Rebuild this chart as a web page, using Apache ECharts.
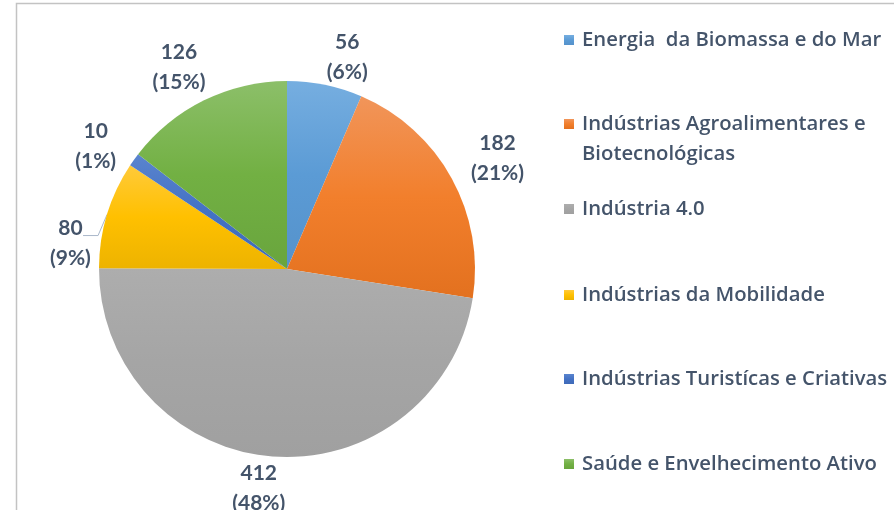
<!DOCTYPE html>
<html><head><meta charset="utf-8">
<script src="https://cdn.jsdelivr.net/npm/echarts@6/dist/echarts.min.js"></script>
<style>html,body{margin:0;padding:0;background:#fff}#c{width:894px;height:510px}</style>
</head><body><div id="c"></div>
<script>
const categories = ['Energia  da Biomassa e do Mar', 'Indústrias Agroalimentares e Biotecnológicas', 'Indústria 4.0', 'Indústrias da Mobilidade', 'Indústrias Turistícas e Criativas', 'Saúde e Envelhecimento Ativo'];
const legendText = ['Energia  da Biomassa e do Mar', '\nIndústrias Agroalimentares e\nBiotecnológicas', 'Indústria 4.0', 'Indústrias da Mobilidade', 'Indústrias Turistícas e Criativas', 'Saúde e Envelhecimento Ativo'];
const values = [56, 182, 412, 80, 10, 126];
const palette = [
  ['#76AEE0', '#5B9BD5', '#5592CB'],
  ['#F1955A', '#F27F2C', '#E3711F'],
  ['#ADADAD', '#A5A5A5', '#A0A0A0'],
  ['#FFCA3A', '#FFC000', '#EDB300'],
  ['#5A84CE', '#4472C4', '#3F6AB8'],
  ['#8CBF69', '#72B043', '#69A53D']
];
const leaderIndex = 3;
// layout tweaks (pixels) for the outside-end data labels
const labelNudge = [[14, 13], [10, 0], [-10, -9], [0, 0], [-5, 10], [-7, 4]];
const legendCenters = [40, 124, 209, 295, 379, 464];

const textColor = '#44546A';
const font = 'Lato';
const legendFont = 'Open Sans';

function grad(c) {
  return new echarts.graphic.LinearGradient(0, 0, 0, 1, [
    {offset: 0, color: c[0]}, {offset: 0.5, color: c[1]}, {offset: 1, color: c[2]}
  ]);
}

const mainData = values.map((v, i) => {
  const d = {value: v, name: categories[i], itemStyle: {color: grad(palette[i])}};
  if (i === leaderIndex) { d.label = {show: true}; d.labelLine = {show: true}; }
  return d;
});
const labelData = values.map((v, i) => {
  const d = {value: v, name: categories[i]};
  if (i === leaderIndex) d.label = {show: false};
  return d;
});

const labelStyle = {fontFamily: font, fontWeight: 'bold', fontSize: 21, color: textColor, lineHeight: 30};

const legends = categories.map((name, i) => ({
  data: [name],
  orient: 'vertical',
  left: 564,
  top: i === 1 ? legendCenters[i] - 45 : legendCenters[i] - 15,
  padding: 0,
  itemWidth: 10,
  itemHeight: 10,
  icon: 'rect',
  selectedMode: false,
  formatter: () => legendText[i],
  textStyle: {fontFamily: legendFont, fontWeight: 600, fontSize: 20.3, color: textColor, lineHeight: 30, padding: [0, 0, 0, 3]}
}));

const chart = echarts.init(document.getElementById('c'), null, {renderer: 'canvas'});
chart.setOption({
  animation: false,
  backgroundColor: '#fff',
  legend: legends,
  graphic: [{
    type: 'polyline', silent: true,
    shape: {points: [[16.5, 510], [16.5, 3.5], [894, 3.5]]},
    style: {stroke: '#C3C3C3', lineWidth: 1.5, fill: null}
  }],
  series: [{
    type: 'pie',
    center: [287, 269],
    radius: 188,
    startAngle: 90,
    clockwise: true,
    percentPrecision: 0,
    avoidLabelOverlap: false,
    emphasis: {disabled: true},
    data: mainData,
    label: Object.assign({show: false, position: 'outside', formatter: '{c}\n({d}%)', distanceToLabelLine: 5}, labelStyle),
    labelLine: {show: false, length: 8, length2: 6, lineStyle: {color: '#A9B7CA', width: 1}},
    labelLayout: function (p) {
      if (p.dataIndex !== leaderIndex || !p.labelLinePoints) return {};
      const r = p.labelRect;
      const p0 = p.labelLinePoints[0];
      return {
        x: r.x + r.width - 18,
        y: r.y + r.height / 2 + 31,
        align: 'center',
        verticalAlign: 'middle',
        labelLinePoints: [p0, [p0[0] - 9, p0[1] + 21], [p0[0] - 24, p0[1] + 21]]
      };
    }
  }, {
    type: 'pie',
    center: [287, 269],
    radius: [188, 264],
    startAngle: 90,
    clockwise: true,
    percentPrecision: 0,
    avoidLabelOverlap: false,
    silent: true,
    legendHoverLink: false,
    emphasis: {disabled: true},
    itemStyle: {color: 'rgba(0,0,0,0)'},
    data: labelData,
    label: Object.assign({show: true, position: 'inside', formatter: '{c}\n({d}%)'}, labelStyle),
    labelLine: {show: false},
    labelLayout: function (p) {
      const r = p.labelRect;
      const n = labelNudge[p.dataIndex] || [0, 0];
      return {
        x: r.x + r.width / 2 + n[0],
        y: r.y + r.height / 2 + n[1],
        align: 'center',
        verticalAlign: 'middle'
      };
    }
  }]
});
</script></body></html>
